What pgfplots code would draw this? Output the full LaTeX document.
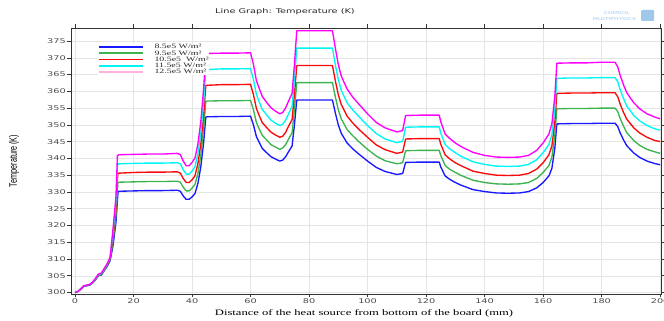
\documentclass[border=0pt]{standalone}
\usepackage{pgfplots}
\pgfplotsset{compat=1.18}
\usepackage{graphicx}
\usepackage{fontspec}
\newfontfamily\sfw[FakeStretch=1.5]{DejaVu Sans}
\newfontfamily\serifw[FakeStretch=1.5]{Liberation Serif}
\newfontfamily\ylabfont{Liberation Sans}
\definecolor{cblue}{RGB}{25,25,255}
\definecolor{cgreen}{RGB}{60,180,80}
\definecolor{cred}{RGB}{250,10,10}
\definecolor{ccyan}{RGB}{0,245,245}
\definecolor{cmag}{RGB}{255,0,255}
\definecolor{cpink}{RGB}{255,180,215}
\definecolor{logo}{RGB}{160,200,235}
\begin{document}
\begin{tikzpicture}
\begin{axis}[
  scale only axis, width=590pt, height=266pt,
  xmin=-1.37, xmax=200.3, ymin=299.55, ymax=378.9,
  xtick={0,20,...,200}, ytick={300,305,...,375},
  grid=major, major grid style={color=black!10, line width=0.4pt},
  axis line style={black!80, line width=0.6pt},
  tick align=outside, xtick pos=both, ytick pos=both,
  xticklabel pos=lower, yticklabel pos=left,
  major tick length=3.5pt, tick style={black!80, line width=0.5pt},
  /pgf/number format/assume math mode=true,
  /pgf/number format/1000 sep={},
  tick label style={font=\sfw\fontsize{6.5}{7}\selectfont, text=black!70},
  xticklabel style={inner sep=0pt, yshift=-1pt},
  yticklabel style={inner sep=0pt, xshift=-1.5pt},
  every axis title/.style={at={(axis description cs:0.3627,1)}, anchor=base, yshift=14pt, font=\sfw\fontsize{6.5}{7}\selectfont, text=black!85},
  title={Line Graph: Temperature (K)},
  every axis x label/.style={at={(axis description cs:0.4966,0)}, anchor=base, yshift=-21.5pt, font=\serifw\fontsize{8.4}{9}\selectfont},
  xlabel={Distance of the heat source from bottom of the board (mm)},
  every axis y label/.style={at={(axis description cs:0,0.5)}, xshift=-57pt, anchor=center, rotate=90, font=\ylabfont\fontsize{7.2}{8}\selectfont},
  ylabel={\scalebox{1}[1.5]{Temperature (K)}},
  legend cell align=left,
  legend image code/.code={\draw[#1, line width=1.7pt] (0pt,0pt) -- (44pt,0pt); \path (55pt,0pt);},
  legend style={at={(axis description cs:0,1)}, xshift=27pt, yshift=-15.9pt, anchor=north west,
    inner sep=0pt, outer sep=0pt, row sep=0pt, draw=none, fill=white,
    font=\serifw\fontsize{6.6}{6.6}\selectfont, text=black!85,
    nodes={inner xsep=0pt, inner ysep=0.3pt, text height=4.6pt, text depth=1.1pt}},
  every axis plot/.append style={line width=1.35pt, line join=round},
]
\addplot[cblue] coordinates {(0,300)(1,300.3)(2,301.0)(3,301.8)(4,302.0)(5,302.2)(6,302.8)(7,303.8)(8,305.0)(9,305.2)(10,306.5)(11,307.8)(12,309.5)(13,314)(14,321)(14.7,330.0)(15,330.2)(20,330.3)(25,330.4)(30,330.4)(35,330.5)(36,330.2)(37,328.8)(38,327.8)(39,327.8)(40,328.5)(41,329.5)(42,332.5)(43,337.5)(44,345)(44.7,352.3)(45,352.4)(50,352.5)(55,352.5)(60,352.6)(61,350)(62,346.5)(63,344.7)(64,343)(65.5,341.7)(67,340.5)(68.5,339.8)(70,339.2)(71,339.5)(72,340.5)(73,342)(74.2,343.7)(75,350)(75.8,357.4)(80,357.4)(85,357.4)(88,357.4)(89,353.5)(90,350)(91,347.5)(93,344.6)(95,342.8)(97,341.3)(100,339.2)(103,337.3)(106,336.1)(110,335.2)(112,335.5)(113,338.8)(118,338.9)(124.5,338.9)(125,337.5)(126.5,334.8)(128,333.8)(130,332.8)(132,332.0)(136,330.7)(140,330.1)(144,329.7)(148,329.6)(152,329.7)(155,330.1)(157.8,331.2)(160,332.8)(162,334.8)(163,337)(164,343)(164.7,350.3)(170,350.4)(175,350.4)(180,350.5)(184.6,350.5)(185.5,349.5)(186.3,347.7)(187.5,345.5)(188.6,343.8)(190,342.5)(191,341.6)(193,340.3)(195.5,339.2)(198,338.5)(200,338.1)};
\addlegendentry{8.5e5 W/m²}
\addplot[cgreen] coordinates {(0,300)(1,300.3)(2,301.0)(3,301.8)(4,302.1)(5,302.3)(6,302.9)(7,303.9)(8,305.1)(9,305.3)(10,306.7)(11,308.0)(12,309.8)(13,315.3)(14,322.9)(14.65,332.7)(15,332.9)(20,333.0)(25,333.1)(30,333.1)(35,333.2)(36,332.9)(37,331.4)(38,330.3)(39,330.3)(40,331.1)(41,332.2)(42,335.4)(43,340.9)(44,349.1)(44.7,357.0)(45,357.1)(50,357.2)(55,357.2)(60,357.3)(61,354.5)(62,350.7)(63,348.7)(64,346.9)(65.5,345.5)(67,344.1)(68.5,343.4)(70,342.7)(71,343.1)(72,344.1)(73,345.8)(74.2,347.6)(75,354.5)(75.8,362.6)(80,362.6)(85,362.6)(88,362.6)(89,358.3)(90,354.5)(91,351.8)(93,348.6)(95,346.7)(97,345.0)(100,342.7)(103,340.7)(106,339.3)(110,338.4)(112,338.7)(113,342.3)(118,342.4)(124.5,342.4)(125,340.9)(126.5,337.9)(128,336.8)(130,335.8)(132,334.9)(136,333.5)(140,332.8)(144,332.4)(148,332.3)(152,332.4)(155,332.8)(157.8,334.0)(160,335.8)(162,337.9)(163,340.3)(164,346.9)(164.7,354.8)(170,354.9)(175,354.9)(180,355.0)(184.6,355.0)(185.5,354.0)(186.3,352.0)(187.5,349.6)(188.6,347.7)(190,346.3)(191,345.3)(193,343.9)(195.5,342.7)(198,342.0)(200,341.5)};
\addlegendentry{9.5e5 W/m²}
\addplot[cred] coordinates {(0,300)(1,300.3)(2,301.1)(3,301.9)(4,302.1)(5,302.3)(6,303.0)(7,304.0)(8,305.3)(9,305.5)(10,306.9)(11,308.2)(12,310.0)(13,316.5)(14,324.8)(14.6,335.4)(15,335.6)(20,335.8)(25,335.9)(30,335.9)(35,336.0)(36,335.6)(37,334.0)(38,332.8)(39,332.8)(40,333.6)(41,334.8)(42,338.4)(43,344.3)(44,353.1)(44.7,361.7)(45,361.8)(50,362.0)(55,362.0)(60,362.1)(61,359.0)(62,354.9)(63,352.7)(64,350.7)(65.5,349.2)(67,347.8)(68.5,347.0)(70,346.3)(71,346.6)(72,347.8)(73,349.6)(74.2,351.6)(75,359.0)(75.8,367.7)(80,367.7)(85,367.7)(88,367.7)(89,363.1)(90,359.0)(91,356.1)(93,352.6)(95,350.5)(97,348.7)(100,346.3)(103,344.0)(106,342.6)(110,341.5)(112,341.9)(113,345.8)(118,345.9)(124.5,345.9)(125,344.3)(126.5,341.1)(128,339.9)(130,338.7)(132,337.8)(136,336.2)(140,335.5)(144,335.0)(148,334.9)(152,335.0)(155,335.5)(157.8,336.8)(160,338.7)(162,341.1)(163,343.7)(164,350.7)(164.7,359.4)(170,359.5)(175,359.5)(180,359.6)(184.6,359.6)(185.5,358.4)(186.3,356.3)(187.5,353.7)(188.6,351.7)(190,350.2)(191,349.1)(193,347.6)(195.5,346.3)(198,345.4)(200,345.0)};
\addlegendentry{10.5e5\ \ W/m²}
\addplot[ccyan] coordinates {(0,300)(1,300.3)(2,301.1)(3,301.9)(4,302.2)(5,302.4)(6,303.0)(7,304.1)(8,305.4)(9,305.6)(10,307.0)(11,308.4)(12,310.3)(13,317.8)(14,326.7)(14.55,338.1)(15,338.4)(20,338.5)(25,338.6)(30,338.6)(35,338.7)(36,338.4)(37,336.6)(38,335.3)(39,335.3)(40,336.2)(41,337.5)(42,341.3)(43,347.6)(44,357.2)(44.7,366.4)(45,366.5)(50,366.7)(55,366.7)(60,366.8)(61,363.5)(62,359.1)(63,356.8)(64,354.6)(65.5,353.0)(67,351.4)(68.5,350.5)(70,349.8)(71,350.2)(72,351.4)(73,353.3)(74.2,355.5)(75,363.5)(75.8,372.9)(80,372.9)(85,372.9)(88,372.9)(89,367.9)(90,363.5)(91,360.3)(93,356.6)(95,354.4)(97,352.5)(100,349.8)(103,347.4)(106,345.8)(110,344.7)(112,345.1)(113,349.3)(118,349.4)(124.5,349.4)(125,347.6)(126.5,344.2)(128,342.9)(130,341.7)(132,340.6)(136,339.0)(140,338.2)(144,337.7)(148,337.6)(152,337.7)(155,338.2)(157.8,339.6)(160,341.7)(162,344.2)(163,347.0)(164,354.6)(164.7,363.9)(170,364.0)(175,364.0)(180,364.1)(184.6,364.1)(185.5,362.9)(186.3,360.6)(187.5,357.8)(188.6,355.6)(190,354.0)(191,352.8)(193,351.2)(195.5,349.8)(198,348.9)(200,348.4)};
\addlegendentry{11.5e5 W/m²}
\addplot[cmag, forget plot] coordinates {(0,300)(1,300.3)(2,301.1)(3,302.0)(4,302.2)(5,302.4)(6,303.1)(7,304.2)(8,305.5)(9,305.8)(10,307.2)(11,308.6)(12,310.5)(13,319.0)(14,328.6)(14.5,340.8)(15,341.1)(20,341.2)(25,341.3)(30,341.3)(35,341.5)(36,341.1)(37,339.2)(38,337.8)(39,337.8)(40,338.8)(41,340.1)(42,344.2)(43,351.0)(44,361.2)(44.7,371.1)(45,371.3)(50,371.4)(55,371.4)(60,371.5)(61,368.0)(62,363.2)(63,360.8)(64,358.5)(65.5,356.7)(67,355.1)(68.5,354.1)(70,353.3)(71,353.7)(72,355.1)(73,357.1)(74.2,359.4)(75,368.0)(75.8,378.1)(80,378.1)(85,378.1)(88,378.1)(89,372.8)(90,368.0)(91,364.6)(93,360.7)(95,358.2)(97,356.2)(100,353.3)(103,350.7)(106,349.1)(110,347.9)(112,348.3)(113,352.8)(118,352.9)(124.5,352.9)(125,351.0)(126.5,347.3)(128,346.0)(130,344.6)(132,343.5)(136,341.8)(140,340.9)(144,340.4)(148,340.3)(152,340.4)(155,340.9)(157.8,342.4)(160,344.6)(162,347.3)(163,350.3)(164,358.5)(164.7,368.4)(170,368.5)(175,368.5)(180,368.7)(184.6,368.7)(185.5,367.3)(186.3,364.9)(187.5,361.9)(188.6,359.6)(190,357.8)(191,356.6)(193,354.8)(195.5,353.3)(198,352.4)(200,351.8)};
\addlegendimage{cpink}
\addlegendentry{12.5e5 W/m²}
\end{axis}
\node[anchor=east, inner sep=0pt, text=logo, font=\sfw\fontsize{4}{4}\selectfont] at ([xshift=-31pt, yshift=15pt]current axis.north east) {COMSOL};
\node[anchor=east, inner sep=0pt, text=logo, font=\sfw\fontsize{4}{4}\selectfont] at ([xshift=-25pt, yshift=9pt]current axis.north east) {MULTIPHYSICS};
\fill[logo, rounded corners=1pt] ([xshift=-20pt, yshift=7pt]current axis.north east) rectangle ([xshift=-7pt, yshift=18pt]current axis.north east);
\pgfresetboundingbox
\path[use as bounding box] (current axis.south west) ++(-71pt,-27pt) rectangle ++(664pt,321pt);
\end{tikzpicture}
\end{document}
